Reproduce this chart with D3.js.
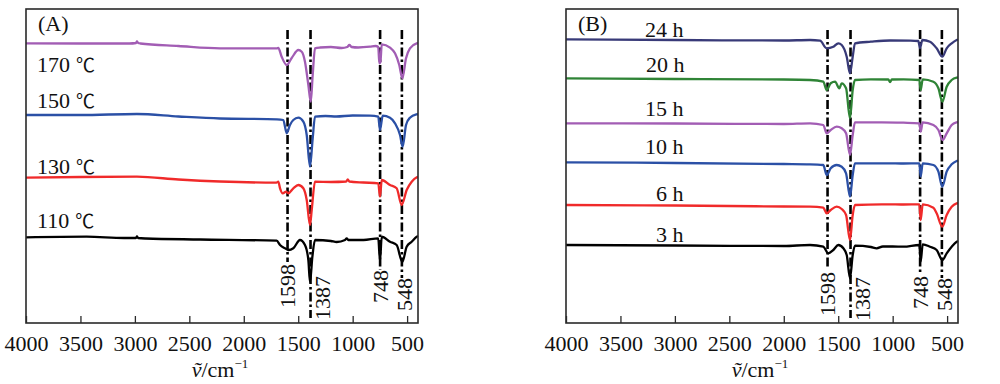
<!DOCTYPE html>
<html><head><meta charset="utf-8">
<script src="https://cdn.jsdelivr.net/npm/d3@7"></script>
<style>
html,body{margin:0;padding:0;background:#fff;}
svg{display:block;font-family:"Liberation Serif","Times New Roman",serif;}
</style></head>
<body><svg id="c" width="1000" height="384"></svg>
<script>
// ---- data (wavenumber cm^-1, transmittance a.u. with stacking offset) ----
const xTicks = [4000, 3500, 3000, 2500, 2000, 1500, 1000, 500];
const peaks = [1598, 1387, 748, 548];

const namesA = ["170", "150", "130", "110"];
const unitA = "℃";
const colorsA = ["#a25db4", "#2b50a6", "#f02a2a", "#000000"];
const t170 = [[4000,279.7],[3500,279.5],[3050,279.5],[2990,280],[2981,281.5],[2970,280],[2950,279.5],[2600,277],[2218,274.7],[1695,274.7],[1683,275],[1652,266.3],[1606,258],[1560,265],[1499,273],[1468,271.3],[1438,261.3],[1407,238],[1385,221.3],[1367,248],[1346,274.7],[1300,275.5],[1200,276],[1101,275],[1050,276],[1030,278],[1010,276],[950,275.5],[841,276.3],[790,277],[765,276],[755,259.7],[745,261],[733,278.7],[657,275.3],[611,269.7],[572,258],[544,244.7],[510,264.7],[474,274.7],[412,279.7],[400,280]];
const t150 = [[4000,208],[3500,208],[2981,209],[2600,206.5],[2218,204.5],[1695,203.7],[1637,203],[1606,189.7],[1576,198],[1545,203],[1499,205.3],[1453,201.3],[1422,188],[1392,156.3],[1367,184.7],[1346,206.3],[1250,207],[1150,206.5],[1000,207.5],[841,207.3],[765,206.3],[749,193],[724,207.3],[657,205.3],[611,199.7],[565,188],[541,176.3],[510,198],[474,205.3],[412,208.7],[400,209]];
const t130 = [[4000,145.3],[3500,146],[2981,146.3],[2600,143.5],[2218,141.5],[1700,140.3],[1683,141.3],[1667,134.7],[1642,129.7],[1612,131.3],[1591,129.7],[1545,134.7],[1499,138],[1453,134.7],[1422,123],[1392,98],[1376,113],[1346,141.3],[1200,141],[1060,141.5],[1045,143.5],[1030,141.5],[900,140.5],[765,139.7],[749,126.3],[733,143],[657,138],[596,134.7],[550,118],[504,133],[458,141.3],[412,145.7],[400,146]];
const t110 = [[4000,85.7],[3443,86.3],[3100,85],[2990,85],[2981,86.5],[2970,85],[2900,84.5],[2400,83.5],[1698,82.3],[1667,78],[1621,74.7],[1591,73],[1545,74.7],[1484,83],[1438,78],[1407,63],[1392,41],[1370,66.3],[1346,83],[1200,82],[1147,81],[1070,83],[1055,84.7],[1040,83],[900,83],[765,84.7],[749,62],[733,86.3],[657,81.3],[596,78],[544,61],[504,76.3],[458,81.3],[412,86.3],[400,87]];

const namesB = ["24 h", "20 h", "15 h", "10 h", "6 h", "3 h"];
const colorsB = ["#383a78", "#2f8436", "#a25db4", "#2b50a6", "#f02a2a", "#000000"];
const h24 = [[4000,283.7],[3000,283],[2000,282.5],[1759,283],[1667,282.3],[1606,274.7],[1545,276.3],[1499,279.7],[1468,278],[1422,266.3],[1392,249.7],[1367,266.3],[1346,279.7],[1200,281.3],[1024,282.5],[841,282.3],[764,282],[749,274.7],[727,283],[657,281.3],[596,274.7],[544,266.3],[504,274.7],[458,279.7],[412,283],[400,283.5]];
const h20 = [[4000,244.7],[3000,244],[2000,243.5],[1759,243],[1637,241.3],[1606,233],[1569,239.7],[1529,241.3],[1490,234.7],[1468,239.7],[1428,234.7],[1392,204.7],[1367,233],[1346,243],[1200,243.7],[1040,243.5],[1024,241],[1008,243.5],[900,243.7],[755,243],[743,233],[724,243.7],[626,241.3],[580,234.7],[544,221.3],[504,236.3],[458,243],[412,245.3],[400,245.5]];
const h15 = [[4000,199.7],[3000,199.5],[2000,199],[1759,199.7],[1637,198],[1606,189.7],[1569,193],[1514,196.3],[1468,194.7],[1428,189.7],[1392,168],[1367,188],[1346,200.7],[1100,200.7],[900,200.3],[755,199.7],[743,191.3],[724,200.7],[626,198],[580,193],[541,183],[504,189.7],[458,198],[412,200.7],[400,201]];
const h10 = [[4000,160.7],[3000,160],[2000,159],[1759,158.7],[1637,158],[1606,148],[1569,154.7],[1514,158],[1468,156.3],[1428,149.7],[1392,126.3],[1367,148],[1346,159.7],[1100,159.7],[900,159.5],[755,159.7],[743,146.3],[724,159.7],[626,158],[580,151.3],[544,136.3],[504,151.3],[458,158.7],[412,162],[400,162.5]];
const h6 = [[4000,118],[3000,117.5],[2000,116.5],[1759,116.3],[1637,115.3],[1606,109.7],[1569,113],[1514,116.3],[1468,114],[1428,108],[1392,83],[1367,108],[1346,118],[1100,118.7],[900,118.5],[755,118.7],[743,103],[724,118.7],[626,115.3],[596,109.7],[544,96.3],[504,108],[458,116.3],[412,119.7],[400,120]];
const h3 = [[4000,78],[3000,77.5],[2000,77],[1759,78],[1637,76.3],[1591,69.7],[1545,73],[1499,78],[1453,74.7],[1422,68],[1392,44.7],[1367,68],[1346,77.3],[1200,76],[1147,74.7],[1090,76.5],[1000,76.5],[900,76.3],[755,78],[743,61.3],[724,78.7],[657,76.3],[596,73],[544,63],[504,69.7],[458,76.3],[412,81.3],[400,82]];

// ---- layout ----
const svg = d3.select("#c");
const plotTop = 9, plotBottom = 323;
const FS = 22;
const yScale = d3.scaleLinear().domain([0, 314]).range([plotBottom, plotTop]);

function panel(left, right, letter, series, names, unit, colors, labelPos, peakLab) {
  const g = svg.append("g");
  const x = d3.scaleLinear().domain([4000, 400]).range([left, right]);
  const line = d3.line().x(d => x(d[0])).y(d => yScale(d[1])).curve(d3.curveMonotoneX);

  // peak lines
  peaks.forEach((p, i) => {
    const L = peakLab[i];
    g.append("line")
      .attr("x1", x(p)).attr("x2", x(p))
      .attr("y1", 30).attr("y2", L.lineEnd)
      .attr("stroke", "#000").attr("stroke-width", 2.6)
      .attr("stroke-dasharray", "9,3,2.5,3");
  });

  // spectra
  series.forEach((s, i) => {
    g.append("path").attr("d", line(s)).attr("fill", "none")
      .attr("stroke", colors[i]).attr("stroke-width", 2.3)
      .attr("stroke-linejoin", "round");
  });

  // peak labels (rotated)
  peaks.forEach((p, i) => {
    const L = peakLab[i];
    g.append("text")
      .attr("transform", `translate(${x(p) + L.dx},${L.yb}) rotate(-90)`)
      .attr("dy", "0.35em").attr("font-size", FS).attr("fill", "#111")
      .text(p);
  });

  // series labels
  names.forEach((n, i) => {
    const t = g.append("text").attr("x", labelPos[i][0]).attr("y", labelPos[i][1])
      .attr("font-size", FS).attr("fill", "#111").text(n);
    if (unit) {
      t.append("tspan").attr("dx", 6).attr("font-family", "Noto Sans CJK SC")
        .attr("font-size", FS - 3).text(unit);
    }
  });

  // panel letter
  g.append("text").attr("x", left + 12).attr("y", 31).attr("font-size", FS)
    .attr("fill", "#111").text(letter);

  // frame
  g.append("rect").attr("x", left).attr("y", plotTop).attr("width", right - left)
    .attr("height", plotBottom - plotTop).attr("fill", "none")
    .attr("stroke", "#2a2a2a").attr("stroke-width", 1.6);

  // x axis
  const ax = d3.axisBottom(x).tickValues(xTicks).tickSize(-7).tickFormat(d3.format("d"));
  const axg = g.append("g").attr("transform", `translate(0,${plotBottom})`).call(ax);
  axg.select(".domain").remove();
  axg.selectAll(".tick line").attr("stroke", "#2a2a2a").attr("stroke-width", 1.3);
  axg.selectAll(".tick text").attr("font-size", FS).attr("fill", "#111")
    .attr("font-family", "Liberation Serif, serif").attr("y", 12);

  // axis title
  const t = g.append("text").attr("x", (left + right) / 2 - 2).attr("y", 377)
    .attr("text-anchor", "middle").attr("font-size", FS).attr("fill", "#111");
  t.append("tspan").attr("font-style", "italic").text("v\u0303");
  t.append("tspan").text("/cm");
  t.append("tspan").attr("font-size", 13).attr("dy", -9).text("\u22121");
}

panel(26, 418, "(A)", [t170, t150, t130, t110], namesA, unitA, colorsA,
  [[37, 72], [37, 108], [37, 174], [37, 228]],
  [{yb: 308, dx: 0, lineEnd: 262}, {yb: 320, dx: 12, lineEnd: 318},
   {yb: 303, dx: 0, lineEnd: 270}, {yb: 311, dx: 2, lineEnd: 278}]);

panel(566, 958, "(B)", [h24, h20, h15, h10, h6, h3], namesB, null, colorsB,
  [[645, 37], [646, 72], [645, 116], [645, 154], [656, 201], [656, 242]],
  [{yb: 316, dx: 0, lineEnd: 268}, {yb: 321, dx: 12, lineEnd: 318},
   {yb: 309, dx: 0, lineEnd: 275}, {yb: 311, dx: 2, lineEnd: 278}]);
</script></body></html>
